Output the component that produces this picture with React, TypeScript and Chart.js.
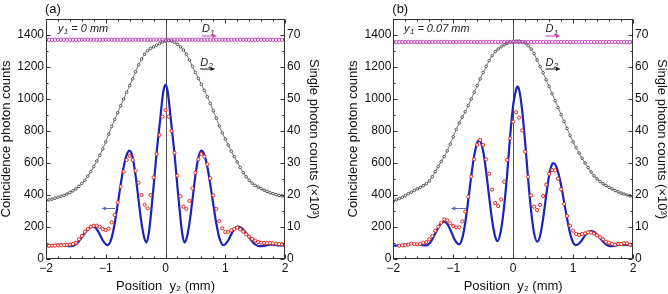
import React, { useEffect, useRef } from "react";
import { Chart, registerables } from "chart.js";

Chart.register(...registerables);

const FONT = '"Liberation Sans", Arial, Helvetica, sans-serif';
Chart.defaults.font.family = FONT;

// Position y2 (mm) of the measured points
const positions = [
  -2, -1.95, -1.9, -1.85, -1.8, -1.75, -1.7, -1.65, -1.6, -1.55,
  -1.5, -1.45, -1.4, -1.35, -1.3, -1.25, -1.2, -1.15, -1.1, -1.05,
  -1, -0.95, -0.9, -0.85, -0.8, -0.75, -0.7, -0.65, -0.6, -0.55,
  -0.5, -0.45, -0.4, -0.35, -0.3, -0.25, -0.2, -0.15, -0.1, -0.05,
  0,
  0.05, 0.1, 0.15, 0.2, 0.25, 0.3, 0.35, 0.4, 0.45, 0.5,
  0.55, 0.6, 0.65, 0.7, 0.75, 0.8, 0.85, 0.9, 0.95, 1,
  1.05, 1.1, 1.15, 1.2, 1.25, 1.3, 1.35, 1.4, 1.45, 1.5,
  1.55, 1.6, 1.65, 1.7, 1.75, 1.8, 1.85, 1.9, 1.95, 2,
];

// ---------- panel (a), y1 = 0 mm ----------
const coincidenceA = [
  81, 82, 83, 84, 85, 86, 87, 88, 90, 94,
  102, 123, 144, 171, 187, 202, 208, 208, 202, 187,
  181, 190, 229, 275, 354, 452, 546, 619, 644, 619,
  552, 477, 400, 340, 317, 400, 510, 656, 775, 889,
  931,
  889, 800, 664, 521, 392, 327, 313, 363, 442, 540,
  623, 656, 640, 592, 504, 398, 313, 237, 192, 169,
  169, 179, 187, 196, 185, 171, 154, 140, 125, 115,
  106, 102, 100, 99, 100, 98, 96, 94, 92, 88,
];

const theoryXA = [
  -2, -1.9, -1.85, -1.8, -1.75, -1.7, -1.65, -1.58, -1.5, -1.45,
  -1.4, -1.35, -1.3, -1.25, -1.208, -1.15, -1.1, -1.05, -1, -0.967,
  -0.9, -0.85, -0.8, -0.75, -0.7, -0.65, -0.6, -0.55, -0.5, -0.45,
  -0.4, -0.35, -0.315, -0.28, -0.25, -0.2, -0.15, -0.1, -0.08, -0.05,
  -0.03, 0,
  0.03, 0.05, 0.08, 0.1, 0.15, 0.2, 0.25, 0.28, 0.315, 0.35,
  0.4, 0.45, 0.5, 0.55, 0.6, 0.65, 0.7, 0.75, 0.8, 0.85,
  0.9, 0.967, 1, 1.05, 1.1, 1.15, 1.208, 1.25, 1.3, 1.35,
  1.4, 1.45, 1.5, 1.58, 1.65, 1.7, 1.75, 1.8, 1.85, 1.9, 2,
];
const theoryA = [
  84, 85, 87, 89, 90, 87, 82, 80, 91, 111,
  136, 162, 184, 198, 202, 186, 154, 117, 92, 87,
  134, 223, 341, 465, 576, 650, 677, 634, 519, 367,
  221, 125, 104, 160, 255, 450, 660, 835, 905, 1010,
  1060, 1088,
  1060, 1010, 905, 835, 660, 450, 255, 160, 104, 125,
  221, 367, 519, 634, 677, 650, 576, 465, 341, 223,
  134, 87, 92, 117, 154, 186, 202, 198, 184, 162,
  136, 111, 91, 80, 82, 87, 90, 89, 87, 85, 84,
];

const singlesD2A = [
  18.3, 18.5, 18.7, 19.0, 19.3, 19.6, 19.9, 20.3, 20.8, 21.3,
  21.9, 22.7, 23.6, 24.6, 25.9, 27.3, 28.9, 30.6, 32.4, 34.4,
  36.6, 39.0, 41.4, 43.6, 45.7, 47.9, 50.0, 52.1, 54.2, 56.3,
  58.5, 60.7, 62.5, 64.0, 65.1, 65.8, 66.3, 66.8, 67.3, 67.8,
  68.1,
  68.2, 68.1, 67.7, 67.1, 66.3, 65.3, 64.0, 62.2, 60.2, 58.3,
  56.4, 54.6, 52.7, 50.7, 48.6, 46.3, 44.0, 41.6, 39.4, 37.5,
  35.6, 33.7, 32.0, 30.3, 28.6, 27.0, 25.7, 24.6, 23.7, 23.0,
  22.5, 22.0, 21.5, 21.1, 20.7, 20.4, 20.1, 19.9, 19.7, 19.5,
];

const singlesD1A = [
  68.5, 68.5, 68.5, 68.5, 68.5, 68.5, 68.5, 68.5, 68.5, 68.5,
  68.5, 68.5, 68.5, 68.5, 68.5, 68.5, 68.5, 68.5, 68.5, 68.5,
  68.5, 68.5, 68.5, 68.5, 68.5, 68.5, 68.5, 68.5, 68.5, 68.5,
  68.5, 68.5, 68.5, 68.5, 68.5, 68.5, 68.5, 68.5, 68.5, 68.5,
  68.5,
  68.5, 68.5, 68.5, 68.5, 68.5, 68.5, 68.5, 68.5, 68.5, 68.5,
  68.5, 68.5, 68.5, 68.5, 68.5, 68.5, 68.5, 68.5, 68.5, 68.5,
  68.5, 68.5, 68.5, 68.5, 68.5, 68.5, 68.5, 68.5, 68.5, 68.5,
  68.5, 68.5, 68.5, 68.5, 68.5, 68.5, 68.5, 68.5, 68.5, 68.5,
];

// ---------- panel (b), y1 = 0.07 mm ----------
const coincidenceB = [
  null, null, 83, 85, 87, 90, 96, 94, 92, 94,
  102, 106, 123, 144, 177, 202, 227, 248, 242, 223,
  206, 198, 198, 235, 296, 390, 515, 623, 713, 744,
  713, 623, 533, 434, 350, 331, 372, 483, 619, 754,
  858,
  917, 884, 804, 671, 514, 398, 327, 306, 338, 394,
  465, 532, 556, 554, 502, 435, 344, 269, 208, 177,
  156, 150, 156, 160, 167, 165, 158, 148, 135, 123,
  108, 102, 94, 90, 94, 94, 98, 98, 90, 83,
];

const theoryXB = [
  -2, -1.9, -1.8, -1.7, -1.6, -1.5, -1.45, -1.4, -1.35, -1.3,
  -1.25, -1.2, -1.15, -1.1, -1.05, -1, -0.95, -0.9, -0.85, -0.8,
  -0.75, -0.7, -0.65, -0.6, -0.566, -0.55, -0.5, -0.45, -0.4, -0.35,
  -0.3, -0.259, -0.2, -0.15, -0.1, -0.05, 0, 0.05, 0.07, 0.1,
  0.15, 0.2, 0.25, 0.3, 0.35, 0.403, 0.45, 0.5, 0.55, 0.6,
  0.65, 0.67, 0.7, 0.75, 0.8, 0.85, 0.9, 0.95, 1, 1.043,
  1.1, 1.15, 1.2, 1.25, 1.3, 1.35, 1.4, 1.45, 1.5, 1.55,
  1.616, 1.65, 1.7, 1.75, 1.8, 1.85, 1.9, 1.95, 2,
];
const theoryB = [
  84, 85, 90, 95, 92, 86, 85, 95, 122, 159,
  196, 223, 233, 220, 184, 141, 105, 92, 128, 225,
  365, 516, 646, 726, 742, 738, 673, 545, 387, 239,
  140, 112, 186, 330, 530, 770, 960, 1060, 1077, 1058,
  930, 730, 500, 300, 160, 108, 145, 252, 393, 521,
  593, 600, 592, 544, 461, 357, 252, 161, 103, 87,
  97, 120, 146, 167, 175, 169, 153, 131, 108, 90,
  80, 81, 84, 87, 89, 89, 88, 87, 86,
];

const singlesD2B = [
  18.1, 18.5, 18.9, 19.3, 19.8, 20.4, 20.9, 21.4, 21.9, 22.4,
  22.9, 23.5, 24.4, 25.7, 27.3, 28.9, 30.5, 32.0, 33.8, 35.9,
  38.2, 40.5, 42.5, 44.3, 46.0, 48.0, 50.0, 52.1, 54.2, 56.3,
  58.3, 60.2, 62.0, 63.5, 64.8, 65.6, 66.3, 66.9, 67.4, 67.8,
  68.0,
  68.1, 68.1, 67.9, 67.5, 66.7, 65.6, 64.2, 62.2, 60.1, 58.2,
  56.0, 53.9, 51.7, 49.5, 47.3, 45.1, 43.0, 40.8, 38.6, 36.6,
  34.8, 33.1, 31.5, 30.0, 28.6, 27.2, 26.0, 25.0, 24.2, 23.5,
  23.0, 22.4, 21.9, 21.4, 21.0, 20.6, 20.3, 20.0, 19.7, 19.5,
];

const singlesD1B = [
  67.8, 67.8, 67.8, 67.8, 67.8, 67.8, 67.8, 67.8, 67.8, 67.8,
  67.8, 67.8, 67.8, 67.8, 67.8, 67.8, 67.8, 67.8, 67.8, 67.8,
  67.8, 67.8, 67.8, 67.8, 67.8, 67.8, 67.8, 67.8, 67.8, 67.8,
  67.8, 67.8, 67.8, 67.8, 67.8, 67.8, 67.8, 67.8, 67.8, 67.8,
  67.8,
  67.8, 67.8, 67.8, 67.8, 67.8, 67.8, 67.8, 67.8, 67.8, 67.8,
  67.8, 67.8, 67.8, 67.8, 67.8, 67.8, 67.8, 67.8, 67.8, 67.8,
  67.8, 67.8, 67.8, 67.8, 67.8, 67.8, 67.8, 67.8, 67.8, 67.8,
  67.8, 67.8, 67.8, 67.8, 67.8, 67.8, 67.8, 67.8, 67.8, 67.8,
];

// axis setup
const xTickValues = [-2, -1, 0, 1, 2];
const leftTickValues = [0, 200, 400, 600, 800, 1000, 1200, 1400];
const rightTickValues = [0, 10, 20, 30, 40, 50, 60, 70];

type Panel = {
  label: string;
  y1Text: string;
  coinc: (number | null)[];
  thX: number[];
  thY: number[];
  d1: number[];
  d2: number[];
  padLeft: number;
  padRight: number;
  y1TextX: number;
  d1X: number;
  d2X: number;
  blueArrow: [number, number, number];
};

const panels: Panel[] = [
  {
    label: "(a)", y1Text: " = 0 mm",
    coinc: coincidenceA, thX: theoryXA, thY: theoryA, d1: singlesD1A, d2: singlesD2A,
    padLeft: 0, padRight: 14, y1TextX: -1.8, d1X: 0.61, d2X: 0.58,
    blueArrow: [-0.845, -1.07, 320],
  },
  {
    label: "(b)", y1Text: " = 0.07 mm",
    coinc: coincidenceB, thX: theoryXB, thY: theoryB, d1: singlesD1B, d2: singlesD2B,
    padLeft: 13.3, padRight: 0, y1TextX: -1.82, d1X: 0.54, d2X: 0.54,
    blueArrow: [-0.78, -1.04, 317],
  },
];

function fmtX(v: number) {
  return v < 0 ? "\u2212" + Math.abs(v) : String(v);
}

function subText(ctx: CanvasRenderingContext2D, x: number, base: number, main: string, sub: string, rest: string, size: number) {
  ctx.font = `italic ${size}px ${FONT}`;
  ctx.textAlign = "left";
  ctx.textBaseline = "alphabetic";
  ctx.fillText(main, x, base);
  let w = ctx.measureText(main).width;
  ctx.font = `italic ${Math.round(size * 0.72)}px ${FONT}`;
  ctx.fillText(sub, x + w + 0.3, base + 2.5);
  w += ctx.measureText(sub).width + 0.3;
  if (rest) {
    ctx.font = `italic ${size}px ${FONT}`;
    ctx.fillText(rest, x + w, base);
  }
}

function arrow(ctx: CanvasRenderingContext2D, x1: number, x2: number, y: number, color: string) {
  const dir = x2 > x1 ? 1 : -1;
  ctx.strokeStyle = color;
  ctx.fillStyle = color;
  ctx.lineWidth = 1;
  ctx.beginPath();
  ctx.moveTo(x1, y);
  ctx.lineTo(x2 - dir * 3, y);
  ctx.stroke();
  ctx.beginPath();
  ctx.moveTo(x2, y);
  ctx.lineTo(x2 - dir * 4.5, y - 2);
  ctx.lineTo(x2 - dir * 4.5, y + 2);
  ctx.closePath();
  ctx.fill();
}

function decor(p: Panel) {
  return {
    id: "decor",
    beforeDatasetsDraw(chart: any) {
      const { ctx, chartArea: ca, scales } = chart;
      const x0 = Math.round(scales.x.getPixelForValue(0)) + 0.5;
      ctx.save();
      ctx.strokeStyle = "#555";
      ctx.lineWidth = 1;
      ctx.beginPath();
      ctx.moveTo(x0, ca.top);
      ctx.lineTo(x0, ca.bottom);
      ctx.stroke();
      ctx.restore();
    },
    afterDraw(chart: any) {
      const { ctx, chartArea: ca, scales } = chart;
      const { x, y, y1 } = scales;
      const L = Math.round(ca.left) + 0.5;
      const R = Math.round(ca.right) - 0.5;
      const T = Math.round(ca.top) + 0.5;
      const B = Math.round(ca.bottom) - 0.5;
      ctx.save();
      ctx.strokeStyle = "#333";
      ctx.lineWidth = 1;
      ctx.strokeRect(L, T, R - L, B - T);
      const line = (a: number, b: number, c: number, d: number) => {
        ctx.beginPath();
        ctx.moveTo(a, b);
        ctx.lineTo(c, d);
        ctx.stroke();
      };
      for (let k = -10; k <= 10; k++) {
        const px = Math.round(x.getPixelForValue(k * 0.2)) + 0.5;
        const len = k % 5 === 0 ? 4 : 2;
        line(px, B, px, B - len);
        line(px, T, px, T + len);
      }
      for (let v = 0; v <= 1500; v += 100) {
        const py = Math.round(y.getPixelForValue(v)) + 0.5;
        line(L, py, L + (v % 200 === 0 ? 4 : 2), py);
      }
      for (let v = 0; v <= 75; v += 5) {
        const py = Math.round(y1.getPixelForValue(v)) + 0.5;
        line(R, py, R - (v % 10 === 0 ? 4 : 2), py);
      }
      // panel label
      ctx.fillStyle = "#111";
      ctx.font = `13px ${FONT}`;
      ctx.textAlign = "left";
      ctx.textBaseline = "alphabetic";
      ctx.fillText(p.label, ca.left - 1, 12.5);
      // y1 text
      ctx.fillStyle = "#222";
      subText(ctx, x.getPixelForValue(p.y1TextX), ca.top + 12.5, "y", "1", p.y1Text, 11);
      // D1
      const d1x = x.getPixelForValue(p.d1X);
      subText(ctx, d1x, ca.top + 13, "D", "1", "", 11);
      arrow(ctx, d1x, d1x + 15, ca.top + 17, "#c23cc2");
      // D2
      const d2x = x.getPixelForValue(p.d2X);
      ctx.fillStyle = "#222";
      subText(ctx, d2x, ca.top + 46.5, "D", "2", "", 11);
      arrow(ctx, d2x, d2x + 15, ca.top + 50, "#111");
      // blue arrow toward left axis
      const [ba, bb, by] = p.blueArrow;
      arrow(ctx, x.getPixelForValue(ba), x.getPixelForValue(bb), Math.round(y.getPixelForValue(by)) + 0.5, "#5a68c8");
      ctx.restore();
    },
  };
}

function buildConfig(p: Panel): any {
  const tickFont = { family: FONT, size: 12 };
  const titleFont = { family: FONT, size: 13, lineHeight: 1 };
  return {
    type: "line",
    data: {
      datasets: [
        {
          label: "coincidence",
          yAxisID: "y",
          data: positions.map((xv, i) => ({ x: xv, y: p.coinc[i] })),
          showLine: false,
          pointRadius: 1.6,
          pointBorderWidth: 1,
          pointBorderColor: "#e2231a",
          pointBackgroundColor: "#ffffff",
          order: 1,
        },
        {
          label: "theory",
          yAxisID: "y",
          data: p.thX.map((xv, i) => ({ x: xv, y: p.thY[i] })),
          borderColor: "#1a24b8",
          borderWidth: 2.2,
          pointRadius: 0,
          cubicInterpolationMode: "monotone",
          fill: false,
          order: 2,
        },
        {
          label: "D1",
          yAxisID: "y1",
          data: positions.map((xv, i) => ({ x: xv, y: p.d1[i] })),
          showLine: false,
          pointRadius: 1.7,
          pointBorderWidth: 0.9,
          pointBorderColor: "#c23cc2",
          pointBackgroundColor: "rgba(255,255,255,0)",
          order: 3,
        },
        {
          label: "D2",
          yAxisID: "y1",
          data: positions.map((xv, i) => ({ x: xv, y: p.d2[i] })),
          borderColor: "#555",
          borderWidth: 0.8,
          pointRadius: 1.3,
          pointBorderWidth: 0.8,
          pointBorderColor: "#333",
          pointBackgroundColor: "#ffffff",
          fill: false,
          order: 4,
        },
      ],
    },
    options: {
      animation: false,
      responsive: false,
      events: [],
      layout: { padding: { top: 19, left: p.padLeft, right: p.padRight, bottom: 0 } },
      plugins: { legend: { display: false }, tooltip: { enabled: false } },
      scales: {
        x: {
          type: "linear",
          min: -2,
          max: 2,
          grid: { display: false, drawTicks: false },
          border: { display: false },
          afterBuildTicks: (s: any) => { s.ticks = xTickValues.map((v) => ({ value: v })); },
          ticks: { padding: 2, font: tickFont, color: "#111", autoSkip: false, maxRotation: 0, callback: (v: number) => fmtX(v) },
          title: { display: true, text: "Position  y\u2082 (mm)", font: { family: FONT, size: 13 }, color: "#111", padding: 0 },
          afterFit: (s: any) => { s.height = 35; },
        },
        y: {
          position: "left",
          min: 0,
          max: 1500,
          grid: { display: false, drawTicks: false },
          border: { display: false },
          afterBuildTicks: (s: any) => { s.ticks = leftTickValues.map((v) => ({ value: v })); },
          ticks: { padding: 2, font: tickFont, color: "#111", autoSkip: false, callback: (v: number) => String(v) },
          title: { display: true, text: "Coincidence photon counts", font: titleFont, color: "#111", padding: 0 },
          afterFit: (s: any) => { s.width = 46; },
        },
        y1: {
          position: "right",
          min: 0,
          max: 75,
          grid: { display: false, drawTicks: false },
          border: { display: false },
          afterBuildTicks: (s: any) => { s.ticks = rightTickValues.map((v) => ({ value: v })); },
          ticks: { padding: 2, font: tickFont, color: "#111", autoSkip: false, callback: (v: number) => String(v) },
          title: { display: true, text: "Single photon counts (\u00d710\u00b3)", font: titleFont, color: "#111", padding: 0 },
          afterFit: (s: any) => { s.width = 35; },
        },
      },
    },
    plugins: [decor(p)],
  };
}

function PanelChart({ p, left }: { p: Panel; left: number }) {
  const ref = useRef<HTMLCanvasElement | null>(null);
  useEffect(() => {
    if (!ref.current) return;
    const chart = new Chart(ref.current, buildConfig(p));
    return () => chart.destroy();
  }, [p]);
  return (
    <canvas
      ref={ref}
      width={334}
      height={294}
      style={{ position: "absolute", left, top: 0, width: 334, height: 294 }}
    />
  );
}

export default function App() {
  return (
    <div style={{ position: "absolute", left: 0, top: 0, width: 668, height: 294, background: "#fff", overflow: "hidden" }}>
      <PanelChart p={panels[0]} left={0} />
      <PanelChart p={panels[1]} left={334} />
    </div>
  );
}
